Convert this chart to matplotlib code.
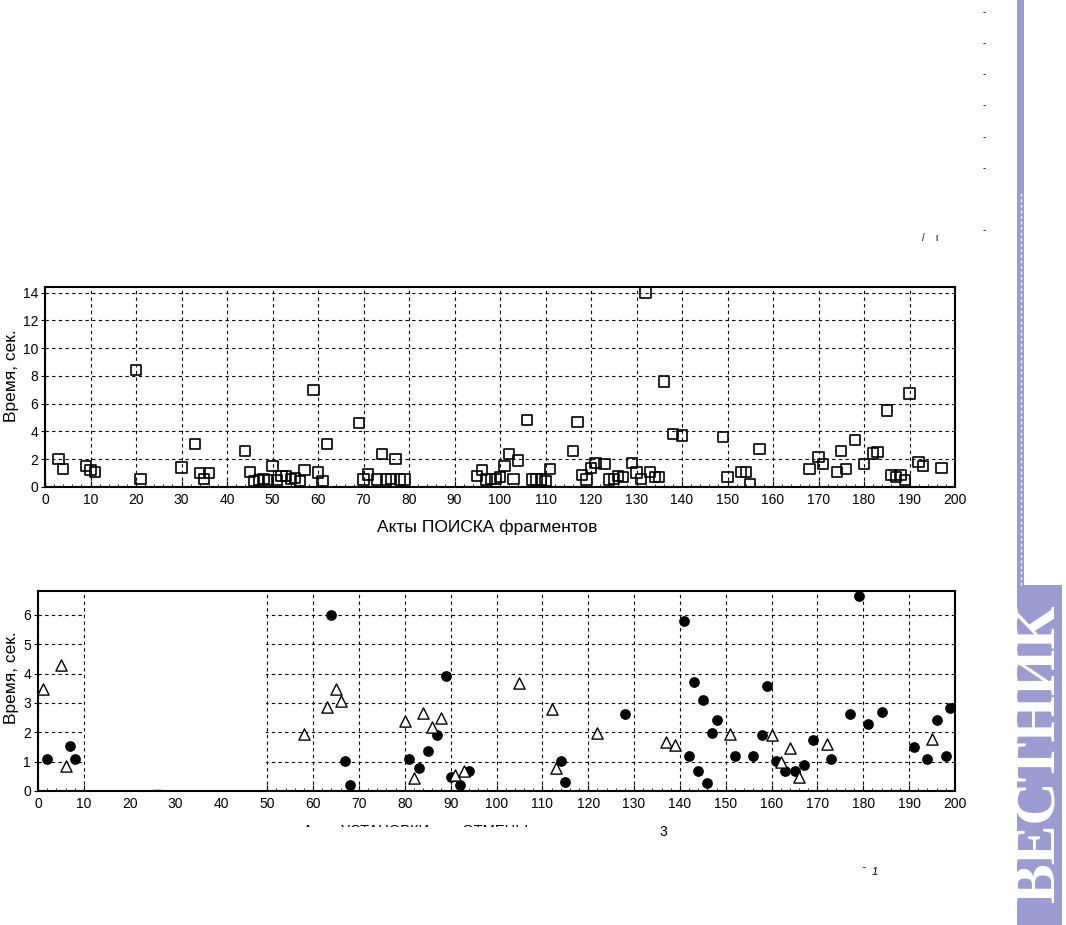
import matplotlib
matplotlib.use("Agg")
import matplotlib.pyplot as plt
from matplotlib.patches import Rectangle
from matplotlib.ticker import MultipleLocator

plt.rcParams['font.family'] = ['Liberation Sans', 'DejaVu Sans']

# top chart: search acts (squares)
search_x = [3, 4, 9, 10, 11, 20, 21, 30, 33, 34, 35, 36, 44, 45, 46, 47, 48, 49, 50, 51,
            52, 53, 54, 55, 56, 57, 59, 60, 61, 62, 69, 70, 71, 73, 74, 75, 76, 77, 78, 79,
            95, 96, 97, 98, 99, 100, 101, 102, 103, 104, 106, 107, 108, 109, 110, 111,
            116, 117, 118, 119, 120, 121, 123, 124, 125, 126, 127, 129, 130, 131, 132, 133,
            134, 135, 136, 138, 140, 149, 150, 153, 154, 155, 157, 168, 170, 171, 174, 175,
            176, 178, 180, 182, 183, 185, 186, 187, 188, 189, 190, 192, 193, 197]
search_t = [2.0, 1.3, 1.5, 1.2, 1.1, 8.4, 0.6, 1.4, 3.1, 1.0, 0.58, 1.0, 2.6, 1.1, 0.45, 0.5, 0.6, 0.5, 1.5, 0.5,
            0.77, 0.77, 0.58, 0.67, 0.45, 1.2, 7.0, 1.05, 0.43, 3.1, 4.6, 0.53, 0.9, 0.53, 2.4, 0.53, 0.6, 2.0, 0.53, 0.53,
            0.77, 1.2, 0.53, 0.58, 0.58, 0.7, 1.5, 2.4, 0.6, 1.9, 4.84, 0.53, 0.53, 0.53, 0.43, 1.3,
            2.6, 4.68, 0.84, 0.53, 1.37, 1.73, 1.68, 0.53, 0.58, 0.77, 0.7, 1.73, 1.05, 0.6, 14.0, 1.1,
            0.7, 0.7, 7.6, 3.8, 3.7, 3.6, 0.7, 1.1, 1.1, 0.2, 2.75, 1.3, 2.15, 1.65, 1.1, 2.6,
            1.3, 3.38, 1.65, 2.42, 2.5, 5.5, 0.86, 0.7, 0.86, 0.5, 6.74, 1.82, 1.5, 1.37]

# bottom chart: triangles and dots
tri_x = [1, 5, 6, 58, 63, 65, 66, 80, 82, 84, 86, 88, 91, 93, 105, 112, 113, 122,
         137, 139, 151, 160, 162, 164, 166, 172, 195]
tri_t = [3.47, 4.3, 0.86, 1.95, 2.87, 3.48, 3.08, 2.38, 0.45, 2.67, 2.17, 2.47, 0.55, 0.67, 3.69, 2.8, 0.78, 1.97,
         1.67, 1.56, 1.95, 1.9, 0.99, 1.48, 0.47, 1.59, 1.77]
dot_x = [2, 7, 8, 64, 67, 68, 81, 83, 85, 87, 89, 90, 92, 94, 114, 115, 128, 141, 142, 143,
         144, 145, 146, 147, 148, 152, 156, 158, 159, 161, 163, 165, 167, 169, 173, 177, 179,
         181, 184, 191, 194, 196, 198, 199]
dot_t = [1.09, 1.52, 1.09, 6.0, 1.01, 0.19, 1.1, 0.8, 1.375, 1.92, 3.92, 0.49, 0.2, 0.69, 1.01, 0.3, 2.61, 5.8, 1.18, 3.72,
         0.69, 3.1, 0.28, 1.99, 2.41, 1.18, 1.18, 1.92, 3.59, 1.02, 0.69, 0.69, 0.9, 1.72, 1.09, 2.61, 6.63,
         2.28, 2.68, 1.51, 1.09, 2.41, 1.18, 2.82]

xticks = list(range(0, 201, 10))
ylabel = "Время, сек."

W, H = 1066, 925
fig = plt.figure(figsize=(W / 100, H / 100), dpi=100)


def box(l, t, r, b):
    return [l / W, 1 - b / H, (r - l) / W, (b - t) / H]


def style(ax):
    ax.set_axisbelow(True)
    ax.grid(True, color='black', linestyle=(0, (3, 3)), linewidth=0.8)
    for s in ax.spines.values():
        s.set_linewidth(1.5)
    ax.set_xlim(0, 200)
    ax.set_xticks(xticks)
    ax.xaxis.set_minor_locator(MultipleLocator(2))
    ax.tick_params(axis='x', which='major', direction='in', length=4, labelsize=10, pad=4)
    ax.tick_params(axis='x', which='minor', direction='in', length=2)
    ax.tick_params(axis='y', which='major', direction='out', length=3, labelsize=10, pad=2)


ax1 = fig.add_axes(box(45, 287, 955, 487))
style(ax1)
ax1.scatter(search_x, search_t, marker='s', s=55, facecolors='none', edgecolors='black',
            linewidths=1.2, zorder=3)
ax1.set_ylim(0, 14.4)
ax1.set_yticks(range(0, 15, 2))
ax1.set_ylabel(ylabel, fontsize=12.5)
ax1.yaxis.set_label_coords((19 - 45) / 910, 0.555)
fig.text(487 / W, 1 - 527 / H, "Акты ПОИСКА фрагментов", fontsize=12.5, ha='center', va='center')

ax2 = fig.add_axes(box(38, 591, 955, 791))
style(ax2)
ax2.set_ylim(0, 6.81)
ax2.set_yticks(range(0, 7))
ax2.add_patch(Rectangle((10.2, 0.03), 39.6, 7, facecolor='white', edgecolor='none', zorder=1))
ax2.scatter(dot_x, dot_t, marker='o', s=45, color='black', zorder=3)
ax2.scatter(tri_x, tri_t, marker='^', s=65, facecolors='white', edgecolors='black',
            linewidths=1.0, zorder=4)
ax2.plot([26], [0.05], marker='_', color='black', markersize=6, zorder=3)
ax2.set_ylabel(ylabel, fontsize=12.5)
ax2.yaxis.set_label_coords((19 - 38) / 917, 0.565)

# partly cut x label of the bottom chart
fig.text(303 / W, 1 - 835 / H, "Акты УСТАНОВКИ или ОТМЕНЫ", fontsize=10.5, ha='left', va='baseline')
fig.patches.append(Rectangle((285 / W, 1 - 850 / H), 320 / W, 23 / H, transform=fig.transFigure,
                             facecolor='white', edgecolor='none', zorder=5))
fig.text(663 / W, 1 - 832 / H, "3", fontsize=10, ha='center', va='center')
fig.text(870 / W, 1 - 872 / H, "ˉ  1", fontsize=8, ha='center', va='center', style='italic')
fig.text(930 / W, 1 - 238 / H, "/    ı", fontsize=7, ha='center', va='center')
for yy in [12, 43, 74, 105, 137, 168, 230]:
    fig.text(984 / W, 1 - yy / H, "-", fontsize=7, ha='center', va='center')

# journal side band
band = '#9c9cd2'
fig.patches.append(Rectangle((1017 / W, 1 - 590 / H), 7 / W, 590 / H, transform=fig.transFigure,
                             facecolor=band, edgecolor='none'))
fig.patches.append(Rectangle((1017 / W, 0), 45 / W, 1 - 585 / H, transform=fig.transFigure,
                             facecolor=band, edgecolor='none'))
fig.add_artist(plt.Line2D([1021 / W, 1021 / W], [1 - 585 / H, 1 - 192 / H], color='white',
                          linewidth=1, linestyle=(0, (2, 2))))
fig.text(1040 / W, 1 - 754 / H, "ВЕСТНИК", rotation=90, color='white', fontsize=43,
         fontweight='bold', family=['Liberation Serif', 'DejaVu Serif'], ha='center', va='center')

fig.savefig("out.png", dpi=100)
